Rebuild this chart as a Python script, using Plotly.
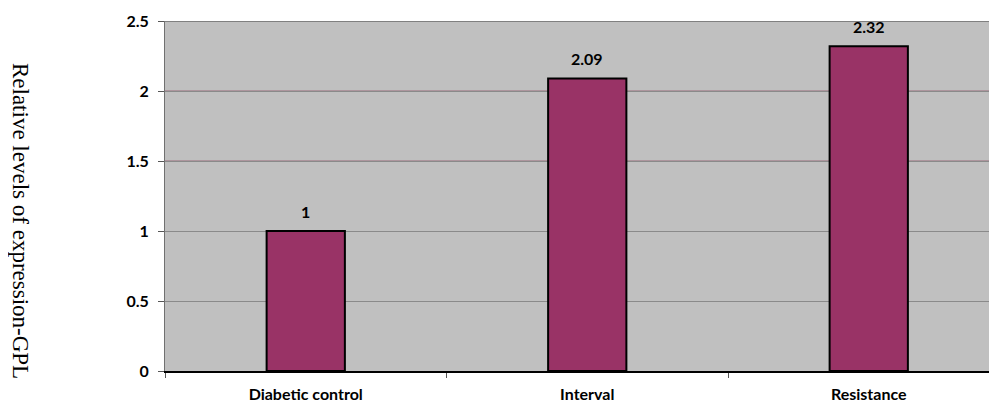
import plotly.graph_objects as go

categories = ["Diabetic control", "Interval", "Resistance"]
values = [1, 2.09, 2.32]
value_labels = ["1", "2.09", "2.32"]
y_title = "Relative levels of expression-GPL"

BAR = "#993366"
BG = "#C0C0C0"
FONT = "Lato"

fig = go.Figure()
fig.add_trace(go.Bar(
    x=categories, y=values,
    width=0.278,
    marker=dict(color=BAR, line=dict(color="black", width=2)),
    hoverinfo="skip",
))

for c, v, t in zip(categories, values, value_labels):
    fig.add_annotation(x=c, y=v, text=t, showarrow=False, yshift=20,
                       font=dict(family=FONT, size=16, color="black", weight="bold"))

fig.add_annotation(xref="paper", yref="paper", x=-0.1726, y=0.4286, xanchor="center", yanchor="middle",
                   text=y_title, textangle=90, showarrow=False,
                   font=dict(family="Liberation Serif", size=23, color="black"))

fig.update_layout(
    width=997, height=409,
    margin=dict(l=157, r=0, t=13, b=46),
    paper_bgcolor="white",
    plot_bgcolor=BG,
    showlegend=False,
    xaxis=dict(
        type="category",
        range=[-0.5, 2.484],
        tickson="boundaries",
        ticks="outside", ticklen=5, tickcolor="#555555",
        ticklabelstandoff=8,
        showline=True, linecolor="black", linewidth=2,
        showgrid=False,
        tickfont=dict(family=FONT, size=16, color="black", weight="bold"),
    ),
    yaxis=dict(
        range=[0, 2.5],
        tickvals=[0, 0.5, 1, 1.5, 2, 2.5],
        ticktext=["0", "0.5", "1", "1.5", "2", "2.5"],
        ticks="outside", ticklen=6, tickcolor="#555555",
        ticklabelstandoff=6,
        showline=True, linecolor="#707070", linewidth=1,
        showgrid=True, gridcolor="#8a8a8a", gridwidth=1,
        zeroline=False,
        tickfont=dict(family=FONT, size=16, color="black", weight="bold"),
    ),
)

# top border of the plot area and reddish gridlines at 1.5 and 2
fig.add_shape(type="line", xref="paper", yref="y", x0=0, x1=1, y0=2.5, y1=2.5,
              line=dict(color="#808080", width=2), layer="above")
for gy in [1.5, 2]:
    fig.add_shape(type="line", xref="paper", yref="y", x0=0, x1=1, y0=gy, y1=gy,
                  line=dict(color="#9a6a7a", width=1), layer="below")

fig.write_html("out.html")
